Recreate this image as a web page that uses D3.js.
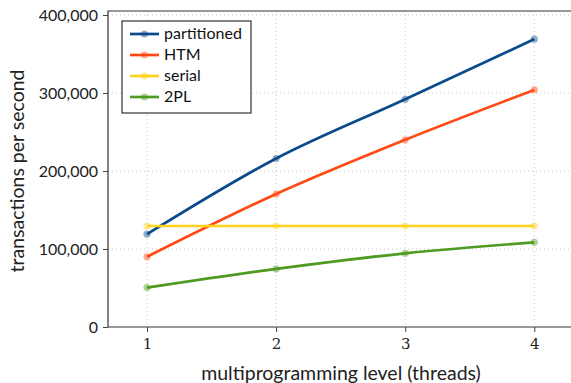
<!DOCTYPE html>
<html>
<head>
<meta charset="utf-8">
<script src="https://cdn.jsdelivr.net/npm/d3@7"></script>
<style>
  body { margin: 0; background: #fff; }
  svg { display: block; }
  .sans { font-family: "Lato", sans-serif; }
</style>
</head>
<body>
<figure id="chart" style="margin:0"></figure>
<script>
// threads on x axis
const threads = [1, 2, 3, 4];
const partitioned = [119000, 216000, 292000, 369000];
const htm = [90000, 170500, 240000, 304000];
const serial = [129500, 129500, 129500, 129500];
const twoPL = [50500, 74500, 94500, 108500];
const seriesNames = ["partitioned", "HTM", "serial", "2PL"];
const seriesColors = ["#0b4a8b", "#ff4a14", "#ffd21c", "#4f9a20"];
const yTicks = [0, 100000, 200000, 300000, 400000];

const width = 571, height = 383;
const plotLeft = 108, plotBottom = 327, plotTop = 11, plotRight = 581;

const svg = d3.select("#chart")
  .append("svg")
  .attr("width", width)
  .attr("height", height);

const x = d3.scaleLinear().domain([1, 4]).range([147, 534.3]);
const y = d3.scaleLinear().domain([0, 400000]).range([plotBottom, 15]);

// dotted grid
svg.append("g")
  .selectAll("line")
  .data(threads)
  .enter()
  .append("line")
  .attr("x1", d => x(d)).attr("x2", d => x(d))
  .attr("y1", plotTop).attr("y2", plotBottom)
  .attr("stroke", "#c8c8c8")
  .attr("stroke-dasharray", "1,3");

svg.append("g")
  .selectAll("line")
  .data(yTicks.slice(1))
  .enter()
  .append("line")
  .attr("x1", plotLeft).attr("x2", plotRight)
  .attr("y1", d => y(d)).attr("y2", d => y(d))
  .attr("stroke", "#c8c8c8")
  .attr("stroke-dasharray", "1,3");

// frame: left, top, bottom
svg.append("path")
  .attr("d", `M${plotRight},${plotTop}H${plotLeft}V${plotBottom}H${plotRight}`)
  .attr("fill", "none")
  .attr("stroke", "#333")
  .attr("stroke-width", 1.2);

// y axis
const yAxis = svg.append("g")
  .attr("transform", `translate(${plotLeft},0)`)
  .call(d3.axisLeft(y).tickValues(yTicks).tickSize(5).tickPadding(5)
    .tickFormat(d3.format(",")));
yAxis.select(".domain").remove();
yAxis.selectAll("line").attr("stroke", "#444");
yAxis.selectAll("text")
  .attr("class", "sans")
  .style("font-size", "16px")
  .attr("fill", "#222");

// x axis
const xAxis = svg.append("g")
  .attr("transform", `translate(0,${plotBottom})`)
  .call(d3.axisBottom(x).tickValues(threads).tickSize(5).tickPadding(6)
    .tickFormat(d3.format("d")));
xAxis.select(".domain").remove();
xAxis.selectAll("line").attr("stroke", "#444");
xAxis.selectAll("text")
  .style("font-family", "'DejaVu Serif', serif")
  .style("font-size", "15px")
  .attr("fill", "#222");

// axis titles
svg.append("text")
  .attr("class", "sans")
  .attr("transform", `translate(24,${(plotTop + plotBottom) / 2 + 2}) rotate(-90)`)
  .attr("text-anchor", "middle")
  .style("font-size", "19.5px")
  .attr("fill", "#222")
  .text("transactions per second");

svg.append("text")
  .attr("class", "sans")
  .attr("x", 341)
  .attr("y", 380)
  .attr("text-anchor", "middle")
  .style("font-size", "19.5px")
  .attr("fill", "#222")
  .text("multiprogramming level (threads)");

// series
const allSeries = [partitioned, htm, serial, twoPL];
const line = d3.line()
  .x((d, i) => x(threads[i]))
  .y(d => y(d))
  .curve(d3.curveMonotoneX);

allSeries.forEach((vals, k) => {
  svg.append("path")
    .datum(vals)
    .attr("d", line)
    .attr("fill", "none")
    .attr("stroke", seriesColors[k])
    .attr("stroke-width", 2.7);
  svg.selectAll(null)
    .data(vals)
    .enter()
    .append("circle")
    .attr("cx", (d, i) => x(threads[i]))
    .attr("cy", d => y(d))
    .attr("r", 3.6)
    .attr("fill", seriesColors[k])
    .attr("fill-opacity", 0.45);
});

// legend
const legend = svg.append("g").attr("transform", "translate(122,21)");
legend.append("rect")
  .attr("width", 129)
  .attr("height", 92)
  .attr("fill", "#fff")
  .attr("stroke", "#333")
  .attr("stroke-width", 1.2);

seriesNames.forEach((name, k) => {
  const ly = 13 + k * 21;
  legend.append("line")
    .attr("x1", 8).attr("x2", 37)
    .attr("y1", ly).attr("y2", ly)
    .attr("stroke", seriesColors[k])
    .attr("stroke-width", 2.7);
  legend.append("circle")
    .attr("cx", 22.5).attr("cy", ly).attr("r", 3.6)
    .attr("fill", seriesColors[k])
    .attr("fill-opacity", 0.45);
  legend.append("text")
    .attr("class", "sans")
    .attr("x", 42)
    .attr("y", ly + 5)
    .style("font-size", "16px")
    .attr("fill", "#111")
    .text(name);
});
</script>
</body>
</html>
